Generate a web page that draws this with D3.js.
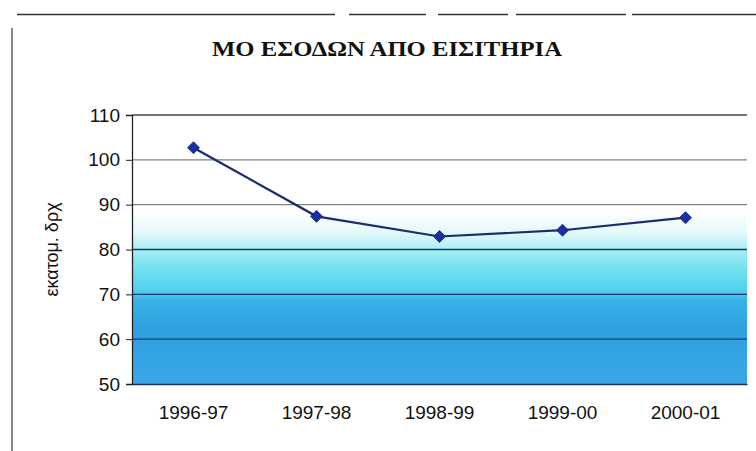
<!DOCTYPE html>
<html>
<head>
<meta charset="utf-8">
<script src="https://cdn.jsdelivr.net/npm/d3@7"></script>
<style>
  html, body { margin: 0; padding: 0; background: #ffffff; }
  svg { display: block; }
</style>
</head>
<body>
<script>
// Average ticket revenue per season (million drachmas)
const seasons = ["1996-97", "1997-98", "1998-99", "1999-00", "2000-01"];
const revenue = [102.7, 87.4, 82.9, 84.3, 87.1];
const yTicks = [50, 60, 70, 80, 90, 100, 110];
const title = "ΜΟ ΕΣΟΔΩΝ ΑΠΟ ΕΙΣΙΤΗΡΙΑ";
const yLabel = "εκατομ. δρχ";

const W = 756, H = 451;
const plot = { left: 132, right: 747, top: 115, bottom: 384 };
const sans = "Liberation Sans, Arial, sans-serif";

const svg = d3.select("body").append("svg")
  .attr("width", W).attr("height", H);

// Frame of the chart sheet
svg.append("line")
  .attr("x1", 17).attr("x2", 756).attr("y1", 14.5).attr("y2", 14.5)
  .attr("stroke", "#333").attr("stroke-width", 1.6)
  .attr("stroke-dasharray", "318,14,77,12,70,8,110,6,200");
svg.append("line")
  .attr("x1", 12).attr("x2", 12).attr("y1", 28).attr("y2", H)
  .attr("stroke", "#444").attr("stroke-width", 1.3);

const x = d3.scaleBand().domain(seasons)
  .range([plot.left, plot.right]).paddingInner(0).paddingOuter(0);
const y = d3.scaleLinear().domain([50, 110])
  .range([plot.bottom, plot.top]);

// Plot area gradient: white at top through cyan to blue
const defs = svg.append("defs");
const grad = defs.append("linearGradient").attr("id", "bg")
  .attr("x1", 0).attr("y1", 0).attr("x2", 0).attr("y2", 1);
[
  [0.00, "#ffffff"],
  [0.36, "#ffffff"],
  [0.44, "#e2f8fb"],
  [0.50, "#a8eef5"],
  [0.56, "#78e3f0"],
  [0.65, "#52d2ee"],
  [0.69, "#36b2e5"],
  [0.80, "#2f9fe0"],
  [1.00, "#3aa8e8"]
].forEach(([o, c]) => grad.append("stop").attr("offset", o).attr("stop-color", c));

svg.append("rect")
  .attr("x", plot.left).attr("y", plot.top)
  .attr("width", plot.right - plot.left).attr("height", plot.bottom - plot.top)
  .attr("fill", "url(#bg)");

// Horizontal gridlines
svg.append("g").selectAll("line")
  .data(yTicks.filter(t => t > 50))
  .join("line")
  .attr("x1", plot.left).attr("x2", plot.right)
  .attr("y1", d => y(d)).attr("y2", d => y(d))
  .attr("stroke", d => d <= 80 ? "#173a6e" : (d === 110 ? "#444" : "#808080"))
  .attr("stroke-width", 1.3);

// Y axis
const yAxis = d3.axisLeft(y).tickValues(yTicks).tickSize(6).tickPadding(6);
const gy = svg.append("g")
  .attr("transform", `translate(${plot.left},0)`)
  .call(yAxis)
  .attr("font-family", sans).attr("font-size", 19);
gy.select(".domain").attr("stroke", "#222").attr("stroke-width", 1.3);
gy.selectAll(".tick line").attr("stroke", "#222");
gy.selectAll(".tick text").attr("fill", "#111");

// X axis
const xAxis = d3.axisBottom(x).tickSize(0).tickPadding(22);
const gx = svg.append("g")
  .attr("transform", `translate(0,${plot.bottom})`)
  .call(xAxis)
  .attr("font-family", sans).attr("font-size", 19);
gx.select(".domain").attr("stroke", "#1d2f5a").attr("stroke-width", 1.6);
gx.selectAll(".tick text").attr("fill", "#111");

// Y axis title
svg.append("text")
  .attr("transform", `translate(58,${(plot.top + plot.bottom) / 2}) rotate(-90)`)
  .attr("text-anchor", "middle")
  .attr("font-family", sans)
  .attr("font-size", 18).attr("fill", "#111")
  .text(yLabel);

// Chart title
svg.append("text")
  .attr("x", 387).attr("y", 56)
  .attr("text-anchor", "middle")
  .attr("font-family", "Liberation Serif, Times New Roman, serif")
  .attr("font-weight", "bold")
  .attr("font-size", 22).attr("fill", "#111")
  .attr("textLength", 350).attr("lengthAdjust", "spacingAndGlyphs")
  .text(title);

// Series line and diamond markers
const cx = d => x(d) + x.bandwidth() / 2;
const line = d3.line().x((d, i) => cx(seasons[i])).y(d => y(d));
svg.append("path")
  .datum(revenue)
  .attr("d", line)
  .attr("fill", "none")
  .attr("stroke", "#1b2b6e")
  .attr("stroke-width", 2.2);

svg.append("g").selectAll("path")
  .data(revenue)
  .join("path")
  .attr("transform", (d, i) => `translate(${cx(seasons[i])},${y(d)}) rotate(45)`)
  .attr("d", d3.symbol(d3.symbolSquare, 72)())
  .attr("fill", "#1a2fa3")
  .attr("stroke", "#14237a").attr("stroke-width", 0.8);
</script>
</body>
</html>
